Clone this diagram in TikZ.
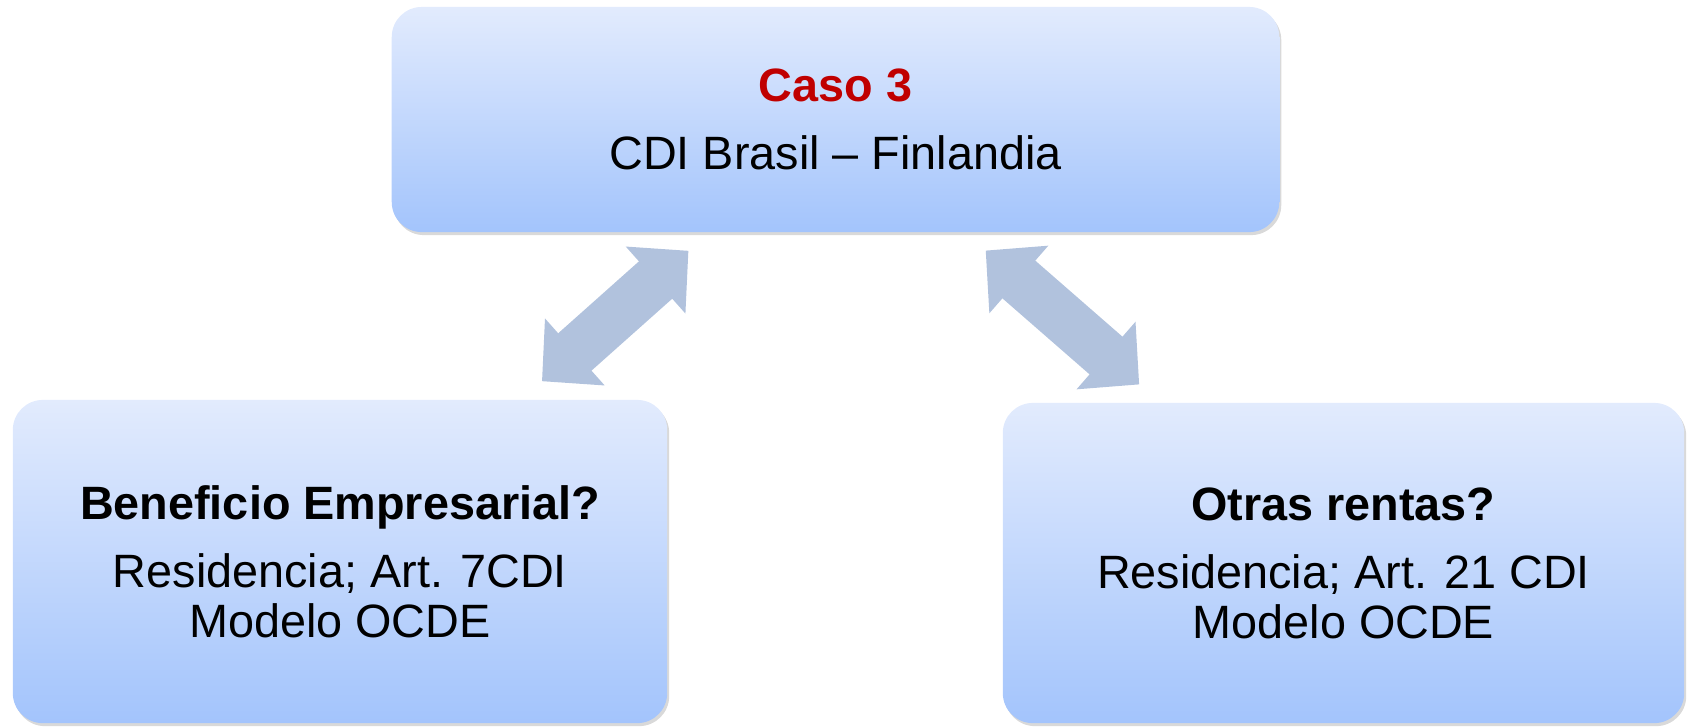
\documentclass[tikz,border=0pt]{standalone}
\usepackage{fontspec}
\setmainfont{Liberation Sans}
\usetikzlibrary{arrows.meta,shadows}

\definecolor{boxtop}{RGB}{226,235,253}
\definecolor{boxbottom}{RGB}{163,196,252}
\definecolor{linkblue}{RGB}{177,194,221}
\definecolor{casored}{RGB}{192,0,0}

\begin{document}
\begin{tikzpicture}[x=0.01cm, y=-0.01cm,
  box/.style={rectangle, rounded corners=0.3cm, top color=boxtop, bottom color=boxbottom,
    drop shadow={shadow xshift=0.02cm, shadow yshift=-0.03cm, opacity=0.3},
    align=center, inner sep=0pt, font=\fontsize{13.3}{14}\selectfont},
  link/.style={linkblue, line width=0.5cm, shorten <=0.27cm, shorten >=0.27cm,
    {Triangle[width=0.87cm, length=0.44cm]}-{Triangle[width=0.87cm, length=0.44cm]}}]
  \useasboundingbox (0,0) rectangle (1688,726);

  \node[box, minimum width=8.87cm, minimum height=2.25cm] (caso) at (835.5,119.5)
    {\textcolor{casored}{\textbf{Caso 3}}\\[5.5pt] CDI Brasil – Finlandia};
  \node[box, minimum width=6.54cm, minimum height=3.23cm] (beneficio) at (340,561.5)
    {\textbf{Beneficio Empresarial?}\\[5.5pt] Residencia; Art. 7CDI\\ Modelo OCDE};
  \node[box, minimum width=6.81cm, minimum height=3.2cm] (rentas) at (1343.5,563)
    {\textbf{Otras rentas?}\\[5.5pt] Residencia; Art. 21 CDI\\ Modelo OCDE};

  \draw[link] (caso) -- (beneficio);
  \draw[link] (caso) -- (rentas);
\end{tikzpicture}
\end{document}
